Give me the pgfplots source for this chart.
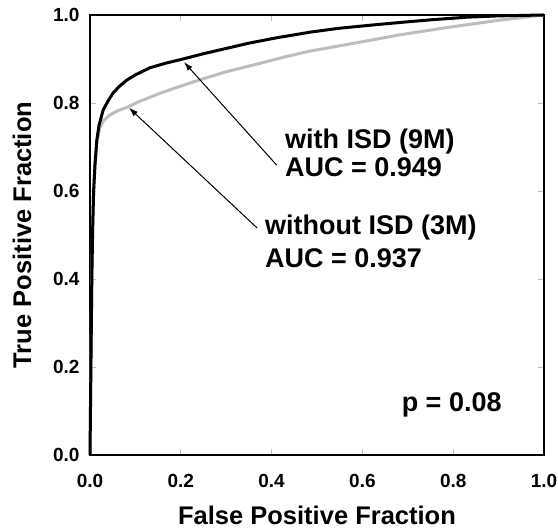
\documentclass[border=0pt]{standalone}
\usepackage{pgfplots}
\pgfplotsset{compat=1.18}
\usepackage{fontspec}
\setmainfont{Liberation Sans}
\usetikzlibrary{arrows.meta}
\definecolor{lightcurve}{HTML}{BDBDBD}
\begin{document}
\begin{tikzpicture}
\begin{axis}[scale only axis,width=454pt,height=440pt,
 xmin=0,xmax=1,ymin=0,ymax=1,
 xtick={0,0.2,...,1.0},ytick={0,0.2,...,1.0},
 /pgf/number format/assume math mode=true,
 /pgf/number format/.cd,fixed,fixed zerofill,precision=1,/pgfplots/.cd,
 tick label style={font=\bfseries\fontsize{19}{19}\selectfont},
 xticklabel style={yshift=-16pt},
 yticklabel style={xshift=-7pt},
 tick align=inside,major tick length=6pt,
 tick style={gray!50,line width=0.8pt},
 axis line style={black,line width=1.3pt},
 xlabel={False Positive Fraction},ylabel={True Positive Fraction},
 label style={font=\bfseries\fontsize{25.5}{25.5}\selectfont,inner sep=0pt},
 xlabel style={at={(axis description cs:0.5,-0.138)},anchor=center},
 ylabel style={at={(axis description cs:-0.150,0.5)},anchor=center},
 clip=false]
% without ISD (3M)
\addplot[lightcurve,line width=3pt] coordinates {(0,0)(0.002,0.2)(0.004,0.4)(0.006,0.52)(0.008,0.6)(0.011,0.66)(0.015,0.71)(0.022,0.745)(0.03,0.76)(0.044,0.773)(0.06,0.782)(0.081,0.79)(0.11,0.804)(0.154,0.822)(0.19,0.835)(0.228,0.848)(0.265,0.86)(0.30,0.871)(0.374,0.89)(0.43,0.905)(0.485,0.918)(0.55,0.93)(0.62,0.943)(0.683,0.955)(0.79,0.972)(0.9,0.988)(1,1)};
% with ISD (9M)
\addplot[black,line width=3pt] coordinates {(0,0)(0.002,0.2)(0.004,0.4)(0.006,0.52)(0.008,0.6)(0.011,0.66)(0.015,0.716)(0.02,0.75)(0.029,0.784)(0.04,0.805)(0.051,0.823)(0.065,0.838)(0.081,0.852)(0.10,0.864)(0.132,0.88)(0.165,0.89)(0.205,0.9)(0.25,0.912)(0.30,0.924)(0.35,0.936)(0.41,0.948)(0.485,0.961)(0.55,0.97)(0.62,0.977)(0.683,0.983)(0.75,0.989)(0.83,0.995)(0.9,0.998)(1,1)};
\draw[line width=1pt,-{Latex[length=9pt,width=6pt]}] (axis cs:0.411,0.659) -- (axis cs:0.207,0.893);
\draw[line width=1pt,-{Latex[length=9pt,width=6pt]}] (axis cs:0.368,0.516) -- (axis cs:0.086,0.789);
\begin{scope}[every node/.style={font=\bfseries\fontsize{27}{27}\selectfont,inner sep=0pt}]
\node[anchor=base west] at (axis cs:0.4295,0.697) {with ISD (9M)};
\node[anchor=base west] at (axis cs:0.4295,0.632) {AUC = 0.949};
\node[anchor=base west] at (axis cs:0.3855,0.500) {without ISD (3M)};
\node[anchor=base west] at (axis cs:0.3855,0.427) {AUC = 0.937};
\node[anchor=base east] at (axis cs:0.907,0.098) {p = 0.08};
\end{scope}
\end{axis}
\pgfresetboundingbox
\path[use as bounding box] ([shift={(-90pt,-74pt)}]current axis.south west) rectangle ([shift={(14pt,15pt)}]current axis.north east);
\end{tikzpicture}
\end{document}
